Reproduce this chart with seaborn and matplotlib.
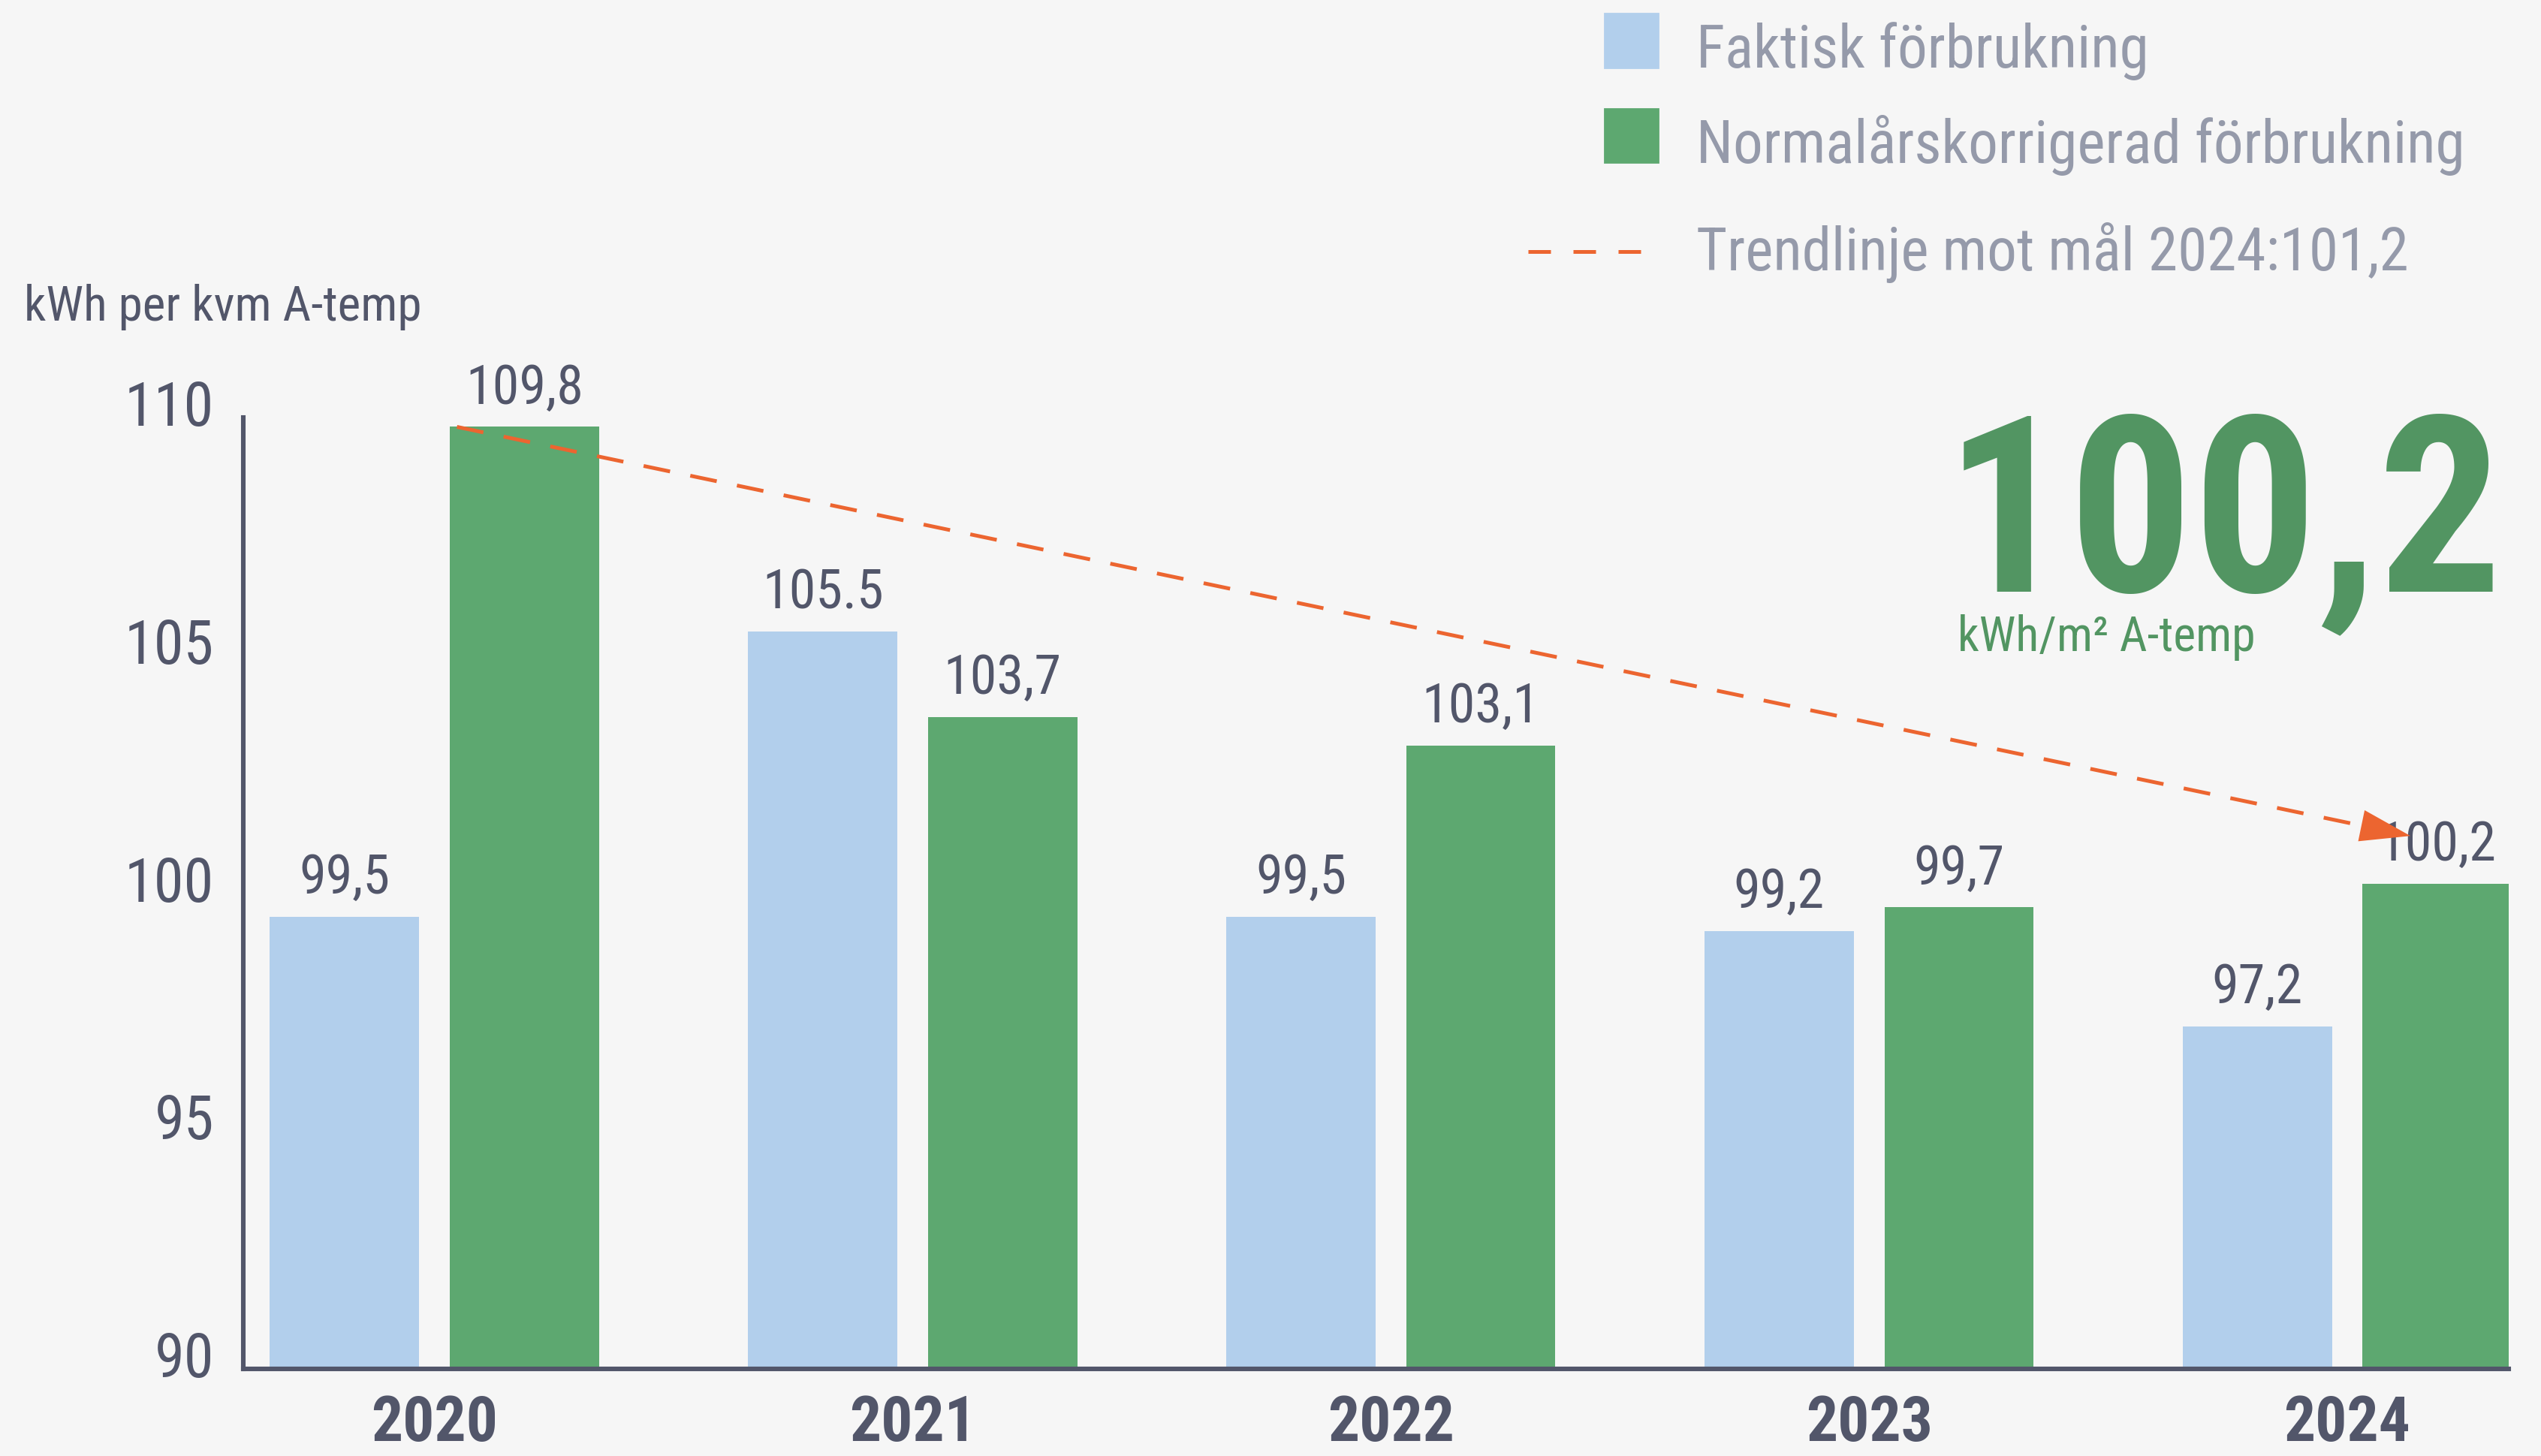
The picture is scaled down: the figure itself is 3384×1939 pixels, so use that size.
import matplotlib
matplotlib.use("Agg")
import matplotlib.pyplot as plt
from matplotlib import font_manager
from matplotlib.patches import Rectangle
from matplotlib.lines import Line2D
from matplotlib.transforms import ScaledTranslation
import seaborn as sns
import pandas as pd

# --- data -------------------------------------------------------------
years = ["2020", "2021", "2022", "2023", "2024"]
faktisk = [99.5, 105.5, 99.5, 99.2, 97.2]
normalars = [109.8, 103.7, 103.1, 99.7, 100.2]
faktisk_labels = ["99,5", "105.5", "99,5", "99,2", "97,2"]
normalars_labels = ["109,8", "103,7", "103,1", "99,7", "100,2"]
series_names = ["Faktisk förbrukning", "Normalårskorrigerad förbrukning"]
trend_label = "Trendlinje mot mål 2024:101,2"
trend_values = [109.8, 101.2]          # 2020 outcome -> 2024 goal
y_ticks = [90, 95, 100, 105, 110]
y_title = "kWh per kvm A-temp"
headline_value = "100,2"
headline_unit = "kWh/m² A-temp"

# --- style ------------------------------------------------------------
BG = "#f6f6f6"
BLUE = "#b2cfec"
GREEN = "#5da870"
HEAD_GREEN = "#529562"
DARK = "#52566a"
LEGEND_GREY = "#959aaa"
ORANGE = "#ec6530"

sns.set_style("white")

# prefer a narrow grotesque; fall back to Roboto
installed = {f.name for f in font_manager.fontManager.ttflist}
narrow = next((n for n in ("Liberation Sans Narrow", "Roboto Condensed")
               if n in installed), None)
if narrow:
    plt.rcParams["font.family"] = [narrow, "DejaVu Sans"]
    k = 1.0
else:
    plt.rcParams["font.family"] = ["Roboto", "DejaVu Sans"]
    k = 0.86

df = pd.DataFrame({
    "år": years * 2,
    "serie": [series_names[0]] * len(years) + [series_names[1]] * len(years),
    "värde": faktisk + normalars,
})

fig = plt.figure(figsize=(16.92, 9.70), dpi=200, facecolor=BG)
ax = fig.add_axes([0.0957, 0.060, 0.8915, 0.653])
ax.set_facecolor(BG)

sns.barplot(data=df, x="år", y="värde", hue="serie", order=years,
            hue_order=series_names, palette=[BLUE, GREEN], saturation=1,
            width=0.752, gap=0.17, legend=False, ax=ax, zorder=2,
            linewidth=0)

ax.set_ylim(90, 110)
ax.set_xlim(-0.40, 4.337)
ax.set_yticks(y_ticks)
ax.set_xlabel("")
ax.set_ylabel("")

# value labels above each bar
for cont, labs in zip(ax.containers, [faktisk_labels, normalars_labels]):
    ax.bar_label(cont, labels=labs, padding=6, fontsize=26 * k, color=DARK)

# axes styling
for side in ("top", "right"):
    ax.spines[side].set_visible(False)
for side in ("left", "bottom"):
    ax.spines[side].set_color(DARK)
    ax.spines[side].set_linewidth(2.2)
ax.tick_params(axis="y", length=0, pad=14, labelsize=29 * k, labelcolor=DARK)
ax.tick_params(axis="x", length=0, pad=12, labelsize=30 * k, labelcolor=DARK)
for lab in ax.get_xticklabels():
    lab.set_fontweight("bold")
shift = ScaledTranslation(0, 0.10, fig.dpi_scale_trans)
for lab in ax.get_yticklabels():
    lab.set_transform(lab.get_transform() + shift)

# dashed trend line from the 2020 normalised value towards the 2024 goal
green_bars = ax.containers[1].patches
x0 = green_bars[0].get_x() + 0.015
x1 = green_bars[-1].get_x() + 0.10
dash = (0, (7.2, 5.5))
ax.plot([x0, x1 - 0.08], [trend_values[0], trend_values[1] + 0.17],
        color=ORANGE, lw=1.8, linestyle=dash, zorder=4,
        dash_capstyle="butt")
ax.annotate("", xy=(x1, trend_values[1]),
            xytext=(x1 - 0.12, trend_values[1] + 0.25),
            arrowprops=dict(arrowstyle="-|>,head_length=0.6,head_width=0.19",
                            mutation_scale=40, color=ORANGE, lw=0,
                            shrinkA=0, shrinkB=0),
            zorder=5)

# y-axis title
fig.text(0.0096, 0.7798, y_title, fontsize=23.5 * k, color=DARK,
         ha="left", va="baseline")

# headline figure
fig.text(0.985, 0.594, headline_value, fontsize=118 * k, fontweight="bold",
         color=HEAD_GREEN, ha="right", va="baseline")
fig.text(0.7704, 0.553, headline_unit, fontsize=23 * k, color=HEAD_GREEN,
         ha="left", va="baseline")

# legend
fig.add_artist(Rectangle((0.6314, 0.9533), 0.0210, 0.0367,
                         transform=fig.transFigure, color=BLUE))
fig.add_artist(Rectangle((0.6314, 0.8880), 0.0210, 0.0367,
                         transform=fig.transFigure, color=GREEN))
fig.add_artist(Line2D([0.6014, 0.6524], [0.8268, 0.8268],
                      transform=fig.transFigure, color=ORANGE, lw=1.8,
                      linestyle=(0, (6.0, 6.0)), dash_capstyle="butt"))
legend_texts = series_names + [trend_label]
for txt, yb in zip(legend_texts, [0.9536, 0.8883, 0.8146]):
    fig.text(0.6677, yb, txt, fontsize=28.5 * k, color=LEGEND_GREY,
             ha="left", va="baseline")

fig.savefig("out.png", dpi=200, facecolor=BG)
